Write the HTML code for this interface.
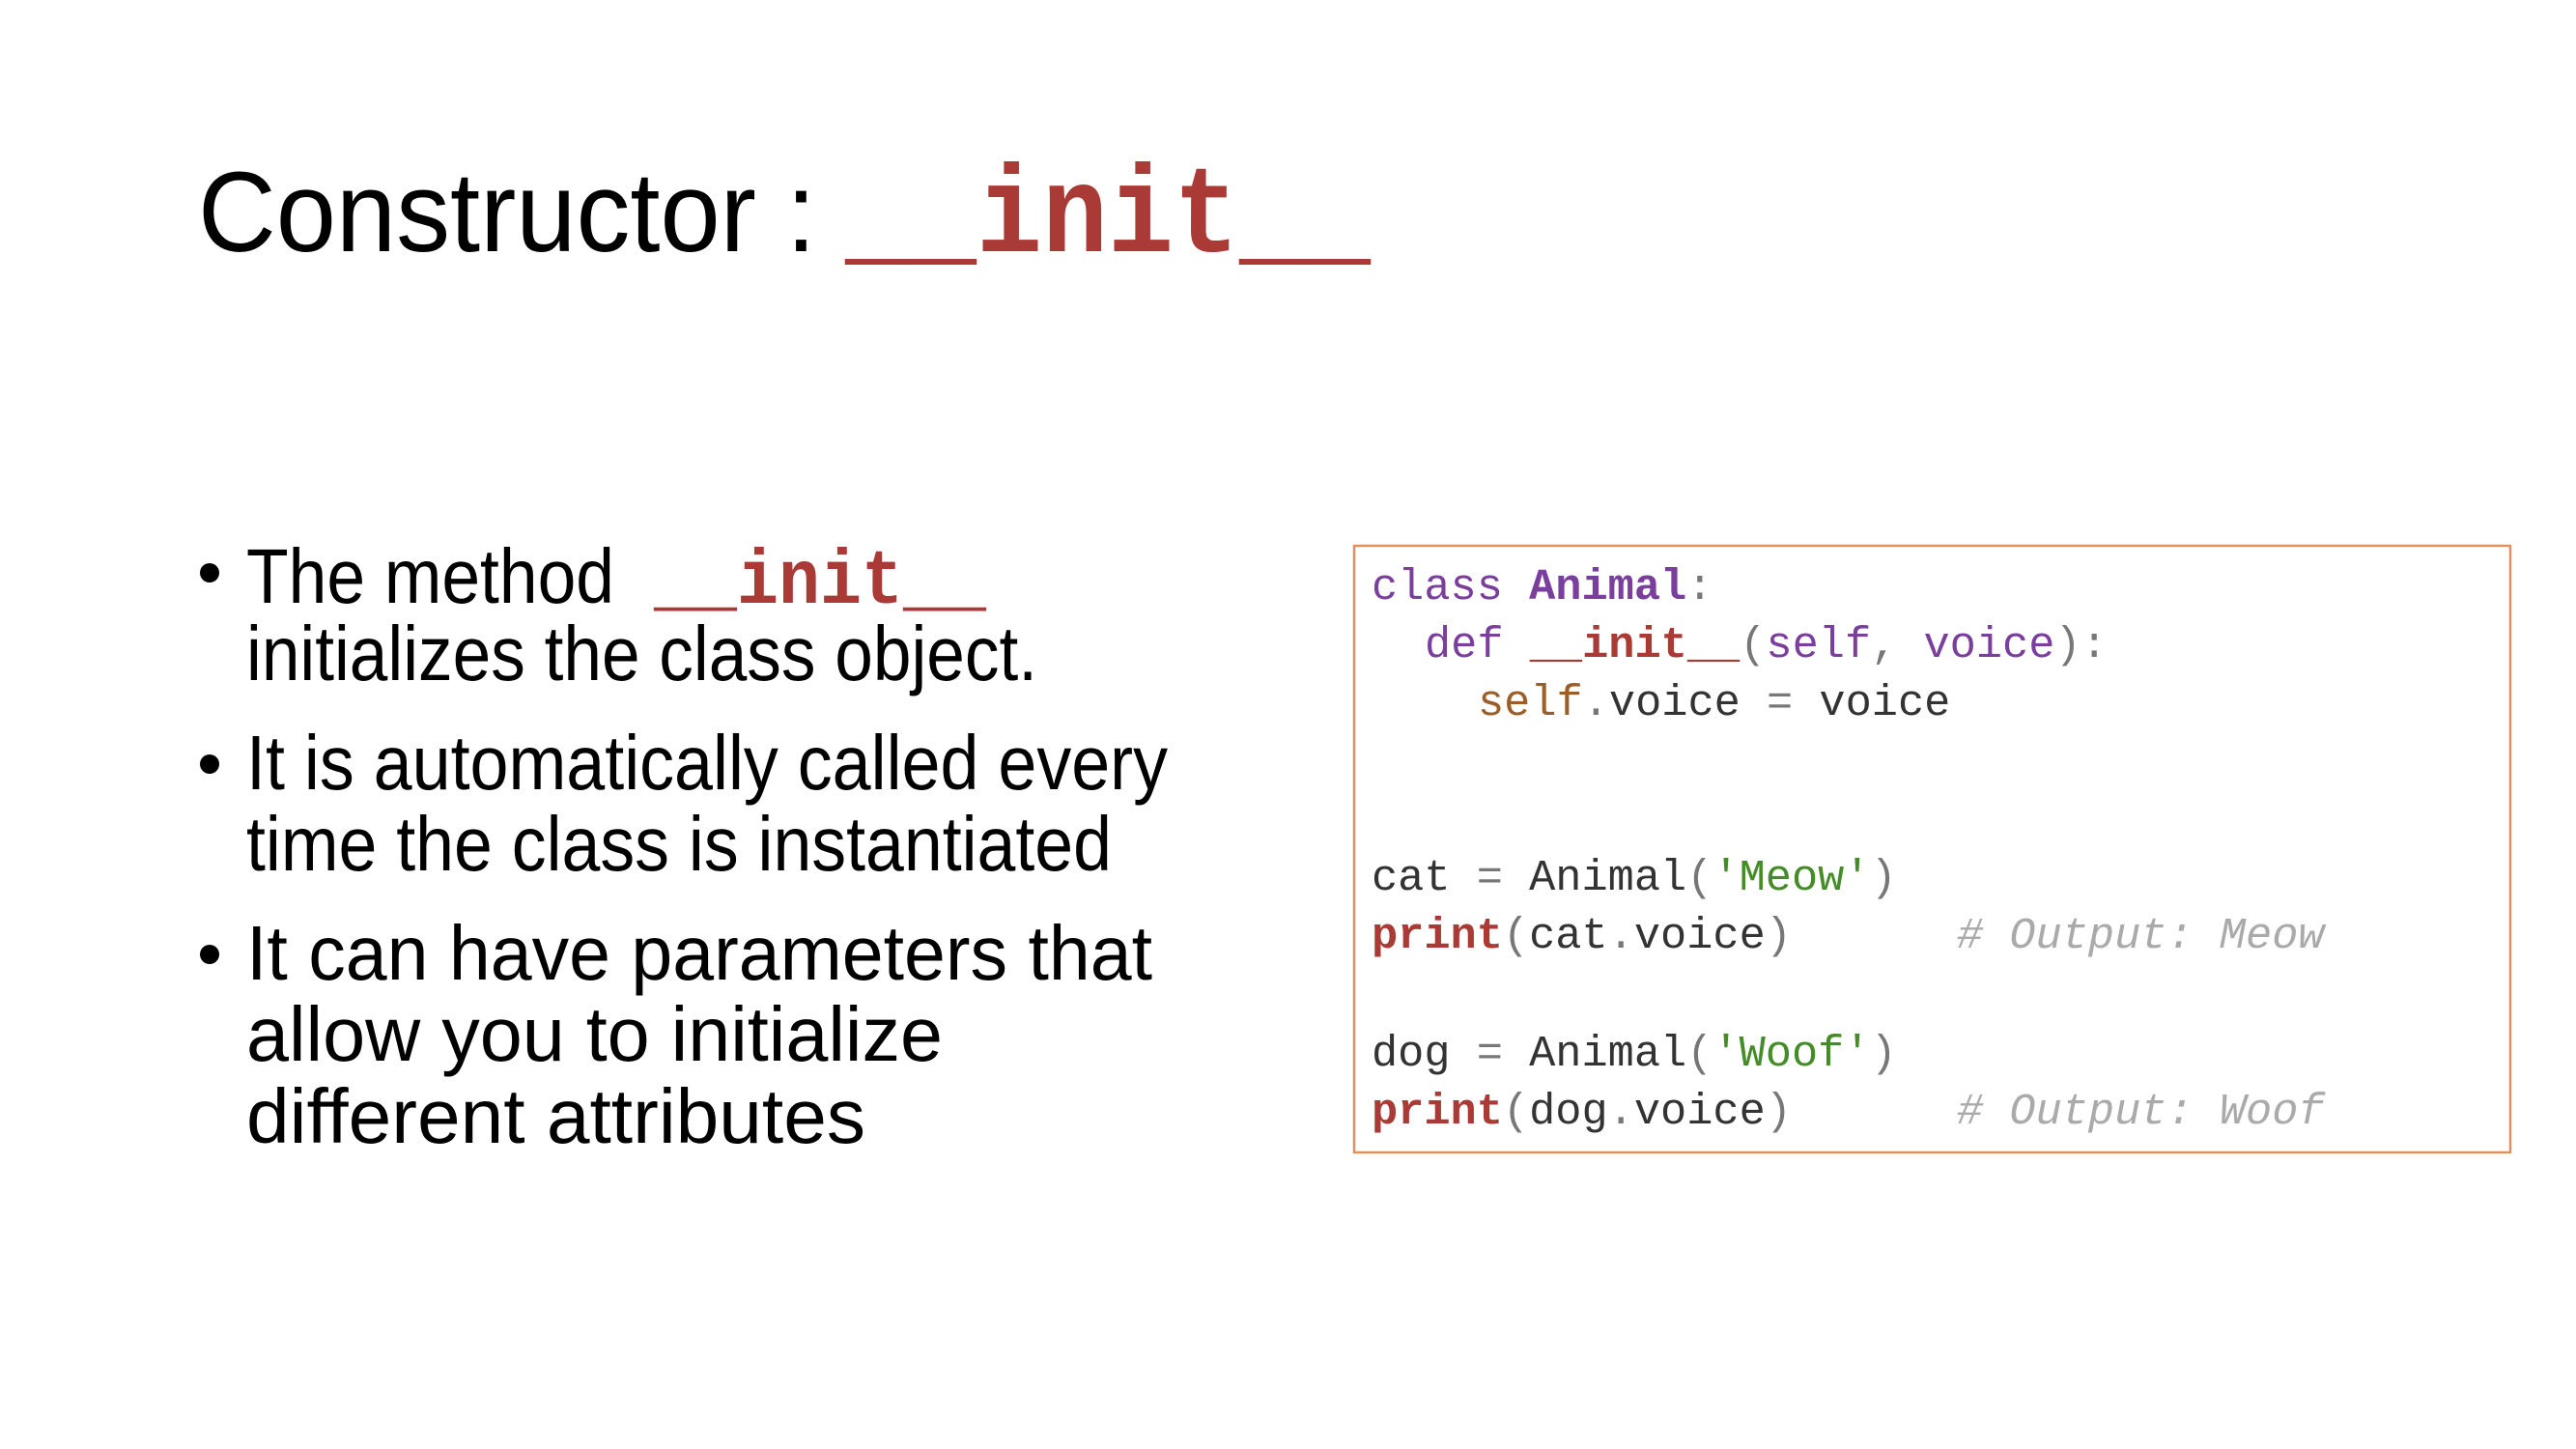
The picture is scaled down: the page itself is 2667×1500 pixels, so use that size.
<!DOCTYPE html>
<html><head><meta charset="utf-8"><style>
html,body{margin:0;padding:0;background:#fff;}
svg{display:block;}
</style></head><body>
<svg width="2667" height="1500" viewBox="0 0 2667 1500" xmlns="http://www.w3.org/2000/svg">
<rect width="2667" height="1500" fill="#fff"/>
<g font-family="Liberation Sans, sans-serif" fill="#000">
<text x="205" y="260" font-size="118" textLength="640" lengthAdjust="spacingAndGlyphs">Constructor :</text>
<text x="875" y="260" font-size="128" font-family="Liberation Mono, monospace" font-weight="bold" fill="#a93a36" textLength="544" lengthAdjust="spacingAndGlyphs">__init__</text>

<g font-size="80">
<circle cx="217" cy="593" r="10"/>
<text x="255" y="624" textLength="381" lengthAdjust="spacingAndGlyphs">The method</text>
<text x="677" y="624" font-family="Liberation Mono, monospace" font-weight="bold" fill="#a93a36" textLength="344" lengthAdjust="spacingAndGlyphs">__init__</text>
<text x="255" y="704" textLength="819" lengthAdjust="spacingAndGlyphs">initializes the class object.</text>
<circle cx="217" cy="791" r="10"/>
<text x="255" y="817" textLength="954" lengthAdjust="spacingAndGlyphs">It is automatically called every</text>
<text x="255" y="901" textLength="896" lengthAdjust="spacingAndGlyphs">time the class is instantiated</text>
<circle cx="217" cy="988" r="10"/>
<text x="255" y="1014" textLength="938" lengthAdjust="spacingAndGlyphs">It can have parameters that</text>
<text x="255" y="1098" textLength="721" lengthAdjust="spacingAndGlyphs">allow you to initialize</text>
<text x="255" y="1183" textLength="641" lengthAdjust="spacingAndGlyphs">different attributes</text>
</g>
</g>

<rect x="1402" y="565" width="1197" height="628" fill="none" stroke="#e0915e" stroke-width="2.5"/>
<g font-family="Liberation Mono, monospace" font-size="45.3" fill="#333" xml:space="preserve">
<text x="1420" y="620"><tspan fill="#7a3e9d">class </tspan><tspan fill="#7a3e9d" font-weight="bold">Animal</tspan><tspan fill="#777">:</tspan></text>
<text x="1475" y="680"><tspan fill="#7a3e9d">def </tspan><tspan fill="#a93a36" font-weight="bold">__init__</tspan><tspan fill="#777">(</tspan><tspan fill="#7a3e9d">self</tspan><tspan fill="#777">, </tspan><tspan fill="#7a3e9d">voice</tspan><tspan fill="#777">):</tspan></text>
<text x="1530" y="740"><tspan fill="#9c5d27">self</tspan><tspan fill="#777">.</tspan>voice <tspan fill="#777">=</tspan> voice</text>
<text x="1420" y="921">cat <tspan fill="#777">=</tspan> Animal<tspan fill="#777">(</tspan><tspan fill="#448c27">'Meow'</tspan><tspan fill="#777">)</tspan></text>
<text x="1420" y="981"><tspan fill="#a93a36" font-weight="bold">print</tspan><tspan fill="#777">(</tspan>cat<tspan fill="#777">.</tspan>voice<tspan fill="#777">)</tspan></text>
<text x="2026" y="981" fill="#aaa" font-style="italic"># Output: Meow</text>
<text x="1420" y="1103">dog <tspan fill="#777">=</tspan> Animal<tspan fill="#777">(</tspan><tspan fill="#448c27">'Woof'</tspan><tspan fill="#777">)</tspan></text>
<text x="1420" y="1163"><tspan fill="#a93a36" font-weight="bold">print</tspan><tspan fill="#777">(</tspan>dog<tspan fill="#777">.</tspan>voice<tspan fill="#777">)</tspan></text>
<text x="2026" y="1163" fill="#aaa" font-style="italic"># Output: Woof</text>
</g>
</svg>
</body></html>
